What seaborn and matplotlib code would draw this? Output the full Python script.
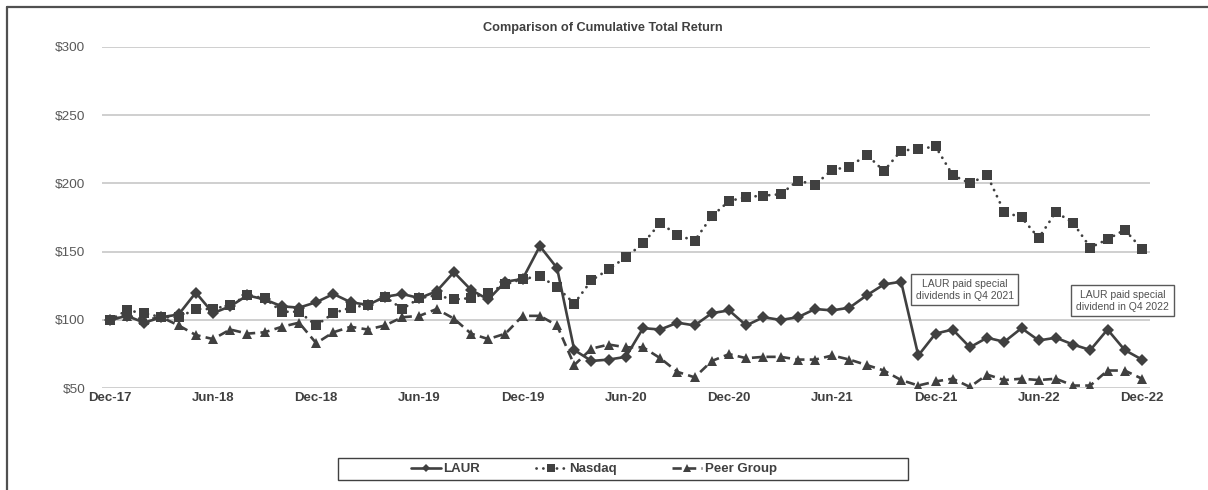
import numpy as np
import pandas as pd
import matplotlib
matplotlib.use("Agg")
import matplotlib.pyplot as plt
from matplotlib.patches import Rectangle
from matplotlib.lines import Line2D
import seaborn as sns

# ---- data (monthly, Dec-17 .. Dec-22) ----
months = pd.date_range("2017-12-01", "2022-12-01", freq="MS").strftime("%b-%y").tolist()

laur = [100, 103, 98, 102, 104, 120, 105, 110, 118, 115, 110, 109, 113, 119, 113,
        111, 117, 119, 116, 121, 135, 122, 115, 128, 130, 154, 138, 78, 70, 71,
        73, 94, 93, 98, 96, 105, 107, 96, 102, 100, 102, 108, 107, 109, 118,
        126, 128, 74, 90, 93, 80, 87, 84, 94, 85, 87, 82, 78, 93, 78, 71]
nasdaq = [100, 107, 105, 102, 102, 108, 108, 111, 118, 116, 106, 106, 96, 105, 109,
          111, 117, 108, 116, 118, 115, 116, 120, 126, 130, 132, 124, 112, 129, 137,
          146, 156, 171, 162, 158, 176, 187, 190, 191, 192, 202, 199, 210, 212, 221,
          209, 224, 225, 227, 206, 200, 206, 179, 175, 160, 179, 171, 153, 159, 166, 152]
peer = [100, 103, 100, 102, 96, 89, 86, 93, 90, 91, 95, 98, 83, 91, 95,
        93, 96, 102, 103, 108, 101, 90, 86, 90, 103, 103, 96, 67, 79, 82,
        80, 80, 72, 62, 58, 70, 75, 72, 73, 73, 71, 71, 74, 71, 67,
        63, 56, 52, 55, 57, 51, 60, 56, 57, 56, 57, 52, 52, 63, 63, 57]

tick_labels = ["Dec-17", "Jun-18", "Dec-18", "Jun-19", "Dec-19", "Jun-20",
               "Dec-20", "Jun-21", "Dec-21", "Jun-22", "Dec-22"]
y_ticks = [50, 100, 150, 200, 250, 300]

notes = ["LAUR paid special\ndividends in Q4 2021",
         "LAUR paid special\ndividend in Q4 2022"]

df = pd.DataFrame({"idx": np.arange(len(months)), "month": months,
                   "LAUR": laur, "Nasdaq": nasdaq, "Peer Group": peer})

# ---- style ----
sns.set_style("white")
plt.rcParams["font.family"] = ["Liberation Sans", "DejaVu Sans"]

dark = "#404040"
fig = plt.figure(figsize=(12.08, 4.9), dpi=100)
ax = fig.add_axes([0.0842, 0.2076, 0.952 - 0.0842, 0.9047 - 0.2076])

sns.lineplot(data=df, x="idx", y="LAUR", ax=ax, color=dark, lw=1.9,
             marker="D", markersize=6, markeredgewidth=0, label="LAUR")
sns.lineplot(data=df, x="idx", y="Nasdaq", ax=ax, color=dark, lw=2.0,
             linestyle=(0, (0.05, 2.4)), dash_capstyle="round",
             marker="s", markersize=7.8, markeredgewidth=0, label="Nasdaq")
sns.lineplot(data=df, x="idx", y="Peer Group", ax=ax, color=dark, lw=1.9,
             linestyle=(0, (3.5, 2.0)),
             marker="^", markersize=7.5, markeredgewidth=0, label="Peer Group")

ax.set_xlim(-0.47, len(months) - 1 + 0.47)
ax.set_ylim(50, 300)
ax.set_yticks(y_ticks)
ax.set_yticklabels([f"${v}" for v in y_ticks], color="#595959", fontsize=9.7)
ax.set_xticks([months.index(t) for t in tick_labels])
ax.set_xticklabels(tick_labels, fontsize=9.5, fontweight="bold", color=dark)
ax.tick_params(axis="y", length=0, pad=12)
ax.tick_params(axis="x", length=0, pad=3)
ax.set_xlabel("")
ax.set_ylabel("")
for s in ax.spines.values():
    s.set_visible(False)
ax.grid(axis="y", color="#cccccc", lw=1.3)
ax.grid(axis="x", visible=False)
ax.set_axisbelow(True)

# annotations
bbox = dict(boxstyle="square,pad=0.45", fc="white", ec="#595959", lw=1)
ax.text(49.7, 122, notes[0], ha="center", va="center", fontsize=7.5,
        color="#505050", bbox=bbox, clip_on=False, zorder=5)
ax.text(58.87, 114, notes[1], ha="center", va="center", fontsize=7.5,
        color="#505050", bbox=bbox, clip_on=False, zorder=5)

# title
fig.text(0.4988, 0.943, "Comparison of Cumulative Total Return", ha="center",
         va="center", fontsize=9.2, fontweight="bold", color=dark)

# legend
ax.get_legend().remove()
h, l = ax.get_legend_handles_labels()
leg = fig.legend(h, l, ncol=3, loc="center left",
                 bbox_to_anchor=(404 / 1208, 1 - 469 / 490),
                 frameon=False, borderpad=0, handlelength=2.3,
                 handletextpad=0.2, columnspacing=4.2, markerscale=0.7,
                 prop={"weight": "bold", "size": 9.5})
for t in leg.get_texts():
    t.set_color(dark)
fig.add_artist(Rectangle((338 / 1208, 1 - 480 / 490), (908 - 338) / 1208,
                         22 / 490, transform=fig.transFigure, fill=False,
                         ec=dark, lw=1))

# outer frame: top and left edges only
fx, fy = 7 / 1208, 1 - 7 / 490
fig.add_artist(Line2D([fx, 1.0], [fy, fy], transform=fig.transFigure,
                      color="#505050", lw=1.6))
fig.add_artist(Line2D([fx, fx], [0.0, fy], transform=fig.transFigure,
                      color="#505050", lw=1.6))

fig.savefig("out.png", dpi=100)
